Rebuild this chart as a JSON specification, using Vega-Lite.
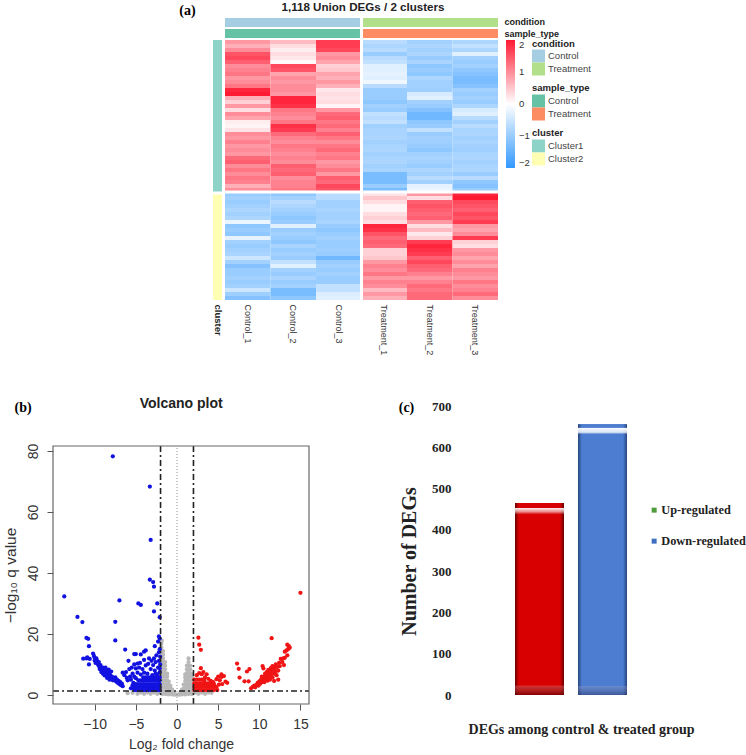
{"$schema":"https://vega.github.io/schema/vega-lite/v6.json","width":746,"height":755,"padding":0,"autosize":{"type":"fit","contains":"padding"},"background":"white","config":{"view":{"stroke":null},"font":"Liberation Sans","legend":{"titleFont":"Liberation Sans"}},
"resolve":{"scale":{"x":"independent","y":"independent","color":"independent"},"axis":{"x":"independent","y":"independent"},"legend":{"color":"independent"}},
"datasets":{"heat":[
{"g":1,"s":"Control_1","v":0.9},{"g":1,"s":"Control_2","v":0.6},{"g":1,"s":"Control_3","v":1.7},{"g":1,"s":"Treatment_1","v":-0.7},{"g":1,"s":"Treatment_2","v":-0.9},{"g":1,"s":"Treatment_3","v":-0.8},
{"g":2,"s":"Control_1","v":0.7},{"g":2,"s":"Control_2","v":0.3},{"g":2,"s":"Control_3","v":1.7},{"g":2,"s":"Treatment_1","v":-0.8},{"g":2,"s":"Treatment_2","v":-0.8},{"g":2,"s":"Treatment_3","v":-0.6},
{"g":3,"s":"Control_1","v":1.0},{"g":3,"s":"Control_2","v":0.15},{"g":3,"s":"Control_3","v":1.6},{"g":3,"s":"Treatment_1","v":-0.7},{"g":3,"s":"Treatment_2","v":-0.9},{"g":3,"s":"Treatment_3","v":-0.8},
{"g":4,"s":"Control_1","v":1.5},{"g":4,"s":"Control_2","v":0.3},{"g":4,"s":"Control_3","v":0.9},{"g":4,"s":"Treatment_1","v":-1.0},{"g":4,"s":"Treatment_2","v":-0.8},{"g":4,"s":"Treatment_3","v":-0.3},
{"g":5,"s":"Control_1","v":1.6},{"g":5,"s":"Control_2","v":0.2},{"g":5,"s":"Control_3","v":1.0},{"g":5,"s":"Treatment_1","v":-0.7},{"g":5,"s":"Treatment_2","v":-1.0},{"g":5,"s":"Treatment_3","v":-0.9},
{"g":6,"s":"Control_1","v":1.4},{"g":6,"s":"Control_2","v":0.05},{"g":6,"s":"Control_3","v":0.8},{"g":6,"s":"Treatment_1","v":-0.6},{"g":6,"s":"Treatment_2","v":-0.85},{"g":6,"s":"Treatment_3","v":-1.0},
{"g":7,"s":"Control_1","v":1.0},{"g":7,"s":"Control_2","v":1.6},{"g":7,"s":"Control_3","v":0.4},{"g":7,"s":"Treatment_1","v":-0.3},{"g":7,"s":"Treatment_2","v":-1.1},{"g":7,"s":"Treatment_3","v":-0.9},
{"g":8,"s":"Control_1","v":1.1},{"g":8,"s":"Control_2","v":1.5},{"g":8,"s":"Control_3","v":0.5},{"g":8,"s":"Treatment_1","v":-0.3},{"g":8,"s":"Treatment_2","v":-1.0},{"g":8,"s":"Treatment_3","v":-1.1},
{"g":9,"s":"Control_1","v":1.2},{"g":9,"s":"Control_2","v":0.8},{"g":9,"s":"Control_3","v":0.8},{"g":9,"s":"Treatment_1","v":-0.25},{"g":9,"s":"Treatment_2","v":-1.1},{"g":9,"s":"Treatment_3","v":-1.2},
{"g":10,"s":"Control_1","v":0.9},{"g":10,"s":"Control_2","v":1.0},{"g":10,"s":"Control_3","v":0.7},{"g":10,"s":"Treatment_1","v":-0.3},{"g":10,"s":"Treatment_2","v":-0.8},{"g":10,"s":"Treatment_3","v":-1.3},
{"g":11,"s":"Control_1","v":1.0},{"g":11,"s":"Control_2","v":0.9},{"g":11,"s":"Control_3","v":0.9},{"g":11,"s":"Treatment_1","v":-0.15},{"g":11,"s":"Treatment_2","v":-0.9},{"g":11,"s":"Treatment_3","v":-1.3},
{"g":12,"s":"Control_1","v":1.2},{"g":12,"s":"Control_2","v":1.0},{"g":12,"s":"Control_3","v":0.7},{"g":12,"s":"Treatment_1","v":-0.7},{"g":12,"s":"Treatment_2","v":-0.9},{"g":12,"s":"Treatment_3","v":-1.2},
{"g":13,"s":"Control_1","v":1.9},{"g":13,"s":"Control_2","v":1.0},{"g":13,"s":"Control_3","v":0.2},{"g":13,"s":"Treatment_1","v":-1.0},{"g":13,"s":"Treatment_2","v":-0.95},{"g":13,"s":"Treatment_3","v":-0.9},
{"g":14,"s":"Control_1","v":2.0},{"g":14,"s":"Control_2","v":0.9},{"g":14,"s":"Control_3","v":0.3},{"g":14,"s":"Treatment_1","v":-1.0},{"g":14,"s":"Treatment_2","v":-0.4},{"g":14,"s":"Treatment_3","v":-1.0},
{"g":15,"s":"Control_1","v":0.7},{"g":15,"s":"Control_2","v":1.9},{"g":15,"s":"Control_3","v":0.25},{"g":15,"s":"Treatment_1","v":-1.0},{"g":15,"s":"Treatment_2","v":-0.3},{"g":15,"s":"Treatment_3","v":-0.9},
{"g":16,"s":"Control_1","v":0.4},{"g":16,"s":"Control_2","v":1.9},{"g":16,"s":"Control_3","v":0.3},{"g":16,"s":"Treatment_1","v":-1.1},{"g":16,"s":"Treatment_2","v":-0.9},{"g":16,"s":"Treatment_3","v":-1.0},
{"g":17,"s":"Control_1","v":0.9},{"g":17,"s":"Control_2","v":1.8},{"g":17,"s":"Control_3","v":0.1},{"g":17,"s":"Treatment_1","v":-0.9},{"g":17,"s":"Treatment_2","v":-1.0},{"g":17,"s":"Treatment_3","v":-0.8},
{"g":18,"s":"Control_1","v":0.3},{"g":18,"s":"Control_2","v":1.2},{"g":18,"s":"Control_3","v":0.9},{"g":18,"s":"Treatment_1","v":-1.0},{"g":18,"s":"Treatment_2","v":-1.2},{"g":18,"s":"Treatment_3","v":-0.4},
{"g":19,"s":"Control_1","v":1.0},{"g":19,"s":"Control_2","v":1.1},{"g":19,"s":"Control_3","v":1.3},{"g":19,"s":"Treatment_1","v":-0.6},{"g":19,"s":"Treatment_2","v":-1.4},{"g":19,"s":"Treatment_3","v":-0.3},
{"g":20,"s":"Control_1","v":0.8},{"g":20,"s":"Control_2","v":1.0},{"g":20,"s":"Control_3","v":1.4},{"g":20,"s":"Treatment_1","v":-0.7},{"g":20,"s":"Treatment_2","v":-1.4},{"g":20,"s":"Treatment_3","v":-0.7},
{"g":21,"s":"Control_1","v":0.15},{"g":21,"s":"Control_2","v":1.2},{"g":21,"s":"Control_3","v":1.2},{"g":21,"s":"Treatment_1","v":-0.6},{"g":21,"s":"Treatment_2","v":-1.1},{"g":21,"s":"Treatment_3","v":-0.9},
{"g":22,"s":"Control_1","v":0.1},{"g":22,"s":"Control_2","v":1.8},{"g":22,"s":"Control_3","v":1.3},{"g":22,"s":"Treatment_1","v":-0.9},{"g":22,"s":"Treatment_2","v":-1.0},{"g":22,"s":"Treatment_3","v":-0.7},
{"g":23,"s":"Control_1","v":0.25},{"g":23,"s":"Control_2","v":1.7},{"g":23,"s":"Control_3","v":1.1},{"g":23,"s":"Treatment_1","v":-0.85},{"g":23,"s":"Treatment_2","v":-0.6},{"g":23,"s":"Treatment_3","v":-0.85},
{"g":24,"s":"Control_1","v":1.0},{"g":24,"s":"Control_2","v":1.3},{"g":24,"s":"Control_3","v":1.4},{"g":24,"s":"Treatment_1","v":-0.85},{"g":24,"s":"Treatment_2","v":-1.0},{"g":24,"s":"Treatment_3","v":-0.8},
{"g":25,"s":"Control_1","v":0.9},{"g":25,"s":"Control_2","v":1.1},{"g":25,"s":"Control_3","v":1.2},{"g":25,"s":"Treatment_1","v":-0.8},{"g":25,"s":"Treatment_2","v":-0.9},{"g":25,"s":"Treatment_3","v":-0.9},
{"g":26,"s":"Control_1","v":1.1},{"g":26,"s":"Control_2","v":1.0},{"g":26,"s":"Control_3","v":1.0},{"g":26,"s":"Treatment_1","v":-0.9},{"g":26,"s":"Treatment_2","v":-0.95},{"g":26,"s":"Treatment_3","v":-0.85},
{"g":27,"s":"Control_1","v":0.9},{"g":27,"s":"Control_2","v":1.2},{"g":27,"s":"Control_3","v":1.2},{"g":27,"s":"Treatment_1","v":-0.85},{"g":27,"s":"Treatment_2","v":-1.0},{"g":27,"s":"Treatment_3","v":-0.9},
{"g":28,"s":"Control_1","v":1.0},{"g":28,"s":"Control_2","v":1.1},{"g":28,"s":"Control_3","v":1.3},{"g":28,"s":"Treatment_1","v":-0.8},{"g":28,"s":"Treatment_2","v":-1.1},{"g":28,"s":"Treatment_3","v":-0.95},
{"g":29,"s":"Control_1","v":0.9},{"g":29,"s":"Control_2","v":1.0},{"g":29,"s":"Control_3","v":1.1},{"g":29,"s":"Treatment_1","v":-0.9},{"g":29,"s":"Treatment_2","v":-0.9},{"g":29,"s":"Treatment_3","v":-0.85},
{"g":30,"s":"Control_1","v":1.3},{"g":30,"s":"Control_2","v":1.1},{"g":30,"s":"Control_3","v":1.2},{"g":30,"s":"Treatment_1","v":-0.85},{"g":30,"s":"Treatment_2","v":-0.85},{"g":30,"s":"Treatment_3","v":-0.8},
{"g":31,"s":"Control_1","v":1.4},{"g":31,"s":"Control_2","v":1.0},{"g":31,"s":"Control_3","v":0.9},{"g":31,"s":"Treatment_1","v":-0.8},{"g":31,"s":"Treatment_2","v":-0.9},{"g":31,"s":"Treatment_3","v":-0.9},
{"g":32,"s":"Control_1","v":1.0},{"g":32,"s":"Control_2","v":1.4},{"g":32,"s":"Control_3","v":1.0},{"g":32,"s":"Treatment_1","v":-0.9},{"g":32,"s":"Treatment_2","v":-1.0},{"g":32,"s":"Treatment_3","v":-0.85},
{"g":33,"s":"Control_1","v":1.2},{"g":33,"s":"Control_2","v":1.3},{"g":33,"s":"Control_3","v":1.2},{"g":33,"s":"Treatment_1","v":-0.85},{"g":33,"s":"Treatment_2","v":-0.8},{"g":33,"s":"Treatment_3","v":-0.8},
{"g":34,"s":"Control_1","v":1.0},{"g":34,"s":"Control_2","v":1.4},{"g":34,"s":"Control_3","v":0.9},{"g":34,"s":"Treatment_1","v":-1.3},{"g":34,"s":"Treatment_2","v":-0.9},{"g":34,"s":"Treatment_3","v":-1.0},
{"g":35,"s":"Control_1","v":1.2},{"g":35,"s":"Control_2","v":1.0},{"g":35,"s":"Control_3","v":1.4},{"g":35,"s":"Treatment_1","v":-1.3},{"g":35,"s":"Treatment_2","v":-0.7},{"g":35,"s":"Treatment_3","v":-0.7},
{"g":36,"s":"Control_1","v":1.1},{"g":36,"s":"Control_2","v":1.1},{"g":36,"s":"Control_3","v":1.3},{"g":36,"s":"Treatment_1","v":-1.3},{"g":36,"s":"Treatment_2","v":-0.9},{"g":36,"s":"Treatment_3","v":-1.1},
{"g":37,"s":"Control_1","v":0.7},{"g":37,"s":"Control_2","v":1.1},{"g":37,"s":"Control_3","v":1.6},{"g":37,"s":"Treatment_1","v":-1.0},{"g":37,"s":"Treatment_2","v":-0.25},{"g":37,"s":"Treatment_3","v":-1.2},
{"g":38,"s":"Control_1","v":1.0},{"g":38,"s":"Control_2","v":1.2},{"g":38,"s":"Control_3","v":1.5},{"g":38,"s":"Treatment_1","v":-1.3},{"g":38,"s":"Treatment_2","v":-0.2},{"g":38,"s":"Treatment_3","v":-1.0},
{"g":39,"s":"Control_1","v":-1.0},{"g":39,"s":"Control_2","v":-1.1},{"g":39,"s":"Control_3","v":-0.7},{"g":39,"s":"Treatment_1","v":0.25},{"g":39,"s":"Treatment_2","v":0.9},{"g":39,"s":"Treatment_3","v":1.9},
{"g":40,"s":"Control_1","v":-0.9},{"g":40,"s":"Control_2","v":-0.9},{"g":40,"s":"Control_3","v":-0.7},{"g":40,"s":"Treatment_1","v":0.5},{"g":40,"s":"Treatment_2","v":0.3},{"g":40,"s":"Treatment_3","v":2.0},
{"g":41,"s":"Control_1","v":-1.0},{"g":41,"s":"Control_2","v":-0.7},{"g":41,"s":"Control_3","v":-0.9},{"g":41,"s":"Treatment_1","v":0.3},{"g":41,"s":"Treatment_2","v":1.4},{"g":41,"s":"Treatment_3","v":1.6},
{"g":42,"s":"Control_1","v":-0.9},{"g":42,"s":"Control_2","v":-0.8},{"g":42,"s":"Control_3","v":-0.9},{"g":42,"s":"Treatment_1","v":0.1},{"g":42,"s":"Treatment_2","v":1.5},{"g":42,"s":"Treatment_3","v":1.5},
{"g":43,"s":"Control_1","v":-0.8},{"g":43,"s":"Control_2","v":-0.9},{"g":43,"s":"Control_3","v":-0.85},{"g":43,"s":"Treatment_1","v":0.1},{"g":43,"s":"Treatment_2","v":1.4},{"g":43,"s":"Treatment_3","v":1.4},
{"g":44,"s":"Control_1","v":-0.9},{"g":44,"s":"Control_2","v":-1.0},{"g":44,"s":"Control_3","v":-0.9},{"g":44,"s":"Treatment_1","v":0.3},{"g":44,"s":"Treatment_2","v":1.3},{"g":44,"s":"Treatment_3","v":1.6},
{"g":45,"s":"Control_1","v":-0.8},{"g":45,"s":"Control_2","v":-1.1},{"g":45,"s":"Control_3","v":-0.9},{"g":45,"s":"Treatment_1","v":0.4},{"g":45,"s":"Treatment_2","v":1.4},{"g":45,"s":"Treatment_3","v":1.5},
{"g":46,"s":"Control_1","v":-0.2},{"g":46,"s":"Control_2","v":-1.0},{"g":46,"s":"Control_3","v":-0.85},{"g":46,"s":"Treatment_1","v":0.3},{"g":46,"s":"Treatment_2","v":0.9},{"g":46,"s":"Treatment_3","v":1.7},
{"g":47,"s":"Control_1","v":-1.1},{"g":47,"s":"Control_2","v":-0.3},{"g":47,"s":"Control_3","v":-1.0},{"g":47,"s":"Treatment_1","v":1.9},{"g":47,"s":"Treatment_2","v":0.3},{"g":47,"s":"Treatment_3","v":0.9},
{"g":48,"s":"Control_1","v":-1.0},{"g":48,"s":"Control_2","v":-1.0},{"g":48,"s":"Control_3","v":-1.1},{"g":48,"s":"Treatment_1","v":1.8},{"g":48,"s":"Treatment_2","v":0.6},{"g":48,"s":"Treatment_3","v":0.8},
{"g":49,"s":"Control_1","v":-1.1},{"g":49,"s":"Control_2","v":-0.9},{"g":49,"s":"Control_3","v":-1.0},{"g":49,"s":"Treatment_1","v":1.5},{"g":49,"s":"Treatment_2","v":0.2},{"g":49,"s":"Treatment_3","v":1.0},
{"g":50,"s":"Control_1","v":-0.25},{"g":50,"s":"Control_2","v":-1.0},{"g":50,"s":"Control_3","v":-0.9},{"g":50,"s":"Treatment_1","v":1.3},{"g":50,"s":"Treatment_2","v":0.4},{"g":50,"s":"Treatment_3","v":1.7},
{"g":51,"s":"Control_1","v":-0.9},{"g":51,"s":"Control_2","v":-1.1},{"g":51,"s":"Control_3","v":-1.0},{"g":51,"s":"Treatment_1","v":1.4},{"g":51,"s":"Treatment_2","v":1.7},{"g":51,"s":"Treatment_3","v":0.4},
{"g":52,"s":"Control_1","v":-1.0},{"g":52,"s":"Control_2","v":-0.85},{"g":52,"s":"Control_3","v":-1.0},{"g":52,"s":"Treatment_1","v":1.3},{"g":52,"s":"Treatment_2","v":1.9},{"g":52,"s":"Treatment_3","v":0.3},
{"g":53,"s":"Control_1","v":-0.9},{"g":53,"s":"Control_2","v":-1.0},{"g":53,"s":"Control_3","v":-0.95},{"g":53,"s":"Treatment_1","v":0.4},{"g":53,"s":"Treatment_2","v":1.8},{"g":53,"s":"Treatment_3","v":0.9},
{"g":54,"s":"Control_1","v":-0.85},{"g":54,"s":"Control_2","v":-0.9},{"g":54,"s":"Control_3","v":-1.0},{"g":54,"s":"Treatment_1","v":0.4},{"g":54,"s":"Treatment_2","v":1.7},{"g":54,"s":"Treatment_3","v":1.0},
{"g":55,"s":"Control_1","v":-0.5},{"g":55,"s":"Control_2","v":-1.0},{"g":55,"s":"Control_3","v":-1.4},{"g":55,"s":"Treatment_1","v":0.5},{"g":55,"s":"Treatment_2","v":1.4},{"g":55,"s":"Treatment_3","v":0.8},
{"g":56,"s":"Control_1","v":-0.9},{"g":56,"s":"Control_2","v":-0.6},{"g":56,"s":"Control_3","v":-1.0},{"g":56,"s":"Treatment_1","v":0.9},{"g":56,"s":"Treatment_2","v":1.6},{"g":56,"s":"Treatment_3","v":1.0},
{"g":57,"s":"Control_1","v":-1.2},{"g":57,"s":"Control_2","v":-0.3},{"g":57,"s":"Control_3","v":-0.9},{"g":57,"s":"Treatment_1","v":1.1},{"g":57,"s":"Treatment_2","v":1.4},{"g":57,"s":"Treatment_3","v":0.8},
{"g":58,"s":"Control_1","v":-1.0},{"g":58,"s":"Control_2","v":-0.9},{"g":58,"s":"Control_3","v":-1.0},{"g":58,"s":"Treatment_1","v":1.0},{"g":58,"s":"Treatment_2","v":1.3},{"g":58,"s":"Treatment_3","v":1.1},
{"g":59,"s":"Control_1","v":-1.0},{"g":59,"s":"Control_2","v":-1.0},{"g":59,"s":"Control_3","v":-0.9},{"g":59,"s":"Treatment_1","v":1.2},{"g":59,"s":"Treatment_2","v":1.1},{"g":59,"s":"Treatment_3","v":1.0},
{"g":60,"s":"Control_1","v":-0.9},{"g":60,"s":"Control_2","v":-0.85},{"g":60,"s":"Control_3","v":-1.0},{"g":60,"s":"Treatment_1","v":0.9},{"g":60,"s":"Treatment_2","v":0.9},{"g":60,"s":"Treatment_3","v":0.9},
{"g":61,"s":"Control_1","v":-1.0},{"g":61,"s":"Control_2","v":-1.0},{"g":61,"s":"Control_3","v":-1.0},{"g":61,"s":"Treatment_1","v":1.1},{"g":61,"s":"Treatment_2","v":1.1},{"g":61,"s":"Treatment_3","v":1.2},
{"g":62,"s":"Control_1","v":-0.9},{"g":62,"s":"Control_2","v":-0.9},{"g":62,"s":"Control_3","v":-0.6},{"g":62,"s":"Treatment_1","v":1.0},{"g":62,"s":"Treatment_2","v":1.3},{"g":62,"s":"Treatment_3","v":1.0},
{"g":63,"s":"Control_1","v":-0.5},{"g":63,"s":"Control_2","v":-1.3},{"g":63,"s":"Control_3","v":-0.6},{"g":63,"s":"Treatment_1","v":0.6},{"g":63,"s":"Treatment_2","v":1.2},{"g":63,"s":"Treatment_3","v":1.1},
{"g":64,"s":"Control_1","v":-0.95},{"g":64,"s":"Control_2","v":-1.3},{"g":64,"s":"Control_3","v":-0.35},{"g":64,"s":"Treatment_1","v":0.9},{"g":64,"s":"Treatment_2","v":1.3},{"g":64,"s":"Treatment_3","v":1.3},
{"g":65,"s":"Control_1","v":-1.2},{"g":65,"s":"Control_2","v":-1.1},{"g":65,"s":"Control_3","v":-0.3},{"g":65,"s":"Treatment_1","v":0.7},{"g":65,"s":"Treatment_2","v":1.3},{"g":65,"s":"Treatment_3","v":1.0}
],
"volcano":[
{"fc":-6,"q":0.6,"g":"ns"},{"fc":-5.4,"q":0.7,"g":"ns"},{"fc":-4.8,"q":0.4,"g":"ns"},{"fc":-4.4,"q":0.8,"g":"ns"},{"fc":-4,"q":0.4,"g":"ns"},{"fc":-3.6,"q":0.8,"g":"ns"},{"fc":-3.2,"q":0.4,"g":"ns"},{"fc":-2.8,"q":0.8,"g":"ns"},{"fc":-2.4,"q":0.4,"g":"ns"},{"fc":-2.2,"q":0.9,"g":"ns"},{"fc":-1.8,"q":0.3,"g":"ns"},{"fc":-1.4,"q":0.3,"g":"ns"},{"fc":-1,"q":0.2,"g":"ns"},{"fc":-0.6,"q":0.2,"g":"ns"},{"fc":-0.3,"q":0.1,"g":"ns"},{"fc":0,"q":0.1,"g":"ns"},{"fc":0.3,"q":0.1,"g":"ns"},{"fc":0.6,"q":0.2,"g":"ns"},{"fc":1,"q":0.2,"g":"ns"},{"fc":1.4,"q":0.3,"g":"ns"},{"fc":1.8,"q":0.3,"g":"ns"},{"fc":2.2,"q":0.8,"g":"ns"},{"fc":2.6,"q":0.4,"g":"ns"},{"fc":3,"q":0.8,"g":"ns"},{"fc":3.4,"q":0.4,"g":"ns"},{"fc":3.8,"q":0.8,"g":"ns"},{"fc":4.2,"q":0.7,"g":"ns"},
{"fc":-2,"q":1.2,"g":"ns"},{"fc":-2,"q":2.4,"g":"ns"},{"fc":-2,"q":3.6,"g":"ns"},{"fc":-2,"q":4.8,"g":"ns"},{"fc":-2,"q":6,"g":"ns"},{"fc":-2,"q":7.2,"g":"ns"},{"fc":-2,"q":8.4,"g":"ns"},{"fc":-1.9,"q":9.6,"g":"ns"},{"fc":-1.9,"q":10.8,"g":"ns"},{"fc":-1.9,"q":12,"g":"ns"},{"fc":-1.9,"q":13.2,"g":"ns"},{"fc":-1.9,"q":14.4,"g":"ns"},{"fc":-1.9,"q":15.6,"g":"ns"},{"fc":-1.9,"q":16.8,"g":"ns"},{"fc":-1.85,"q":17.8,"g":"ns"},
{"fc":-1.7,"q":1.2,"g":"ns"},{"fc":-1.7,"q":2.4,"g":"ns"},{"fc":-1.7,"q":3.6,"g":"ns"},{"fc":-1.7,"q":4.8,"g":"ns"},{"fc":-1.7,"q":6,"g":"ns"},{"fc":-1.7,"q":7.2,"g":"ns"},{"fc":-1.7,"q":8.4,"g":"ns"},{"fc":-1.7,"q":9.6,"g":"ns"},{"fc":-1.7,"q":10.8,"g":"ns"},{"fc":-1.7,"q":12,"g":"ns"},{"fc":-1.7,"q":13.2,"g":"ns"},{"fc":-1.7,"q":14.4,"g":"ns"},
{"fc":-1.45,"q":1.2,"g":"ns"},{"fc":-1.45,"q":2.4,"g":"ns"},{"fc":-1.45,"q":3.6,"g":"ns"},{"fc":-1.45,"q":4.8,"g":"ns"},{"fc":-1.45,"q":6,"g":"ns"},{"fc":-1.45,"q":7.2,"g":"ns"},{"fc":-1.45,"q":8.4,"g":"ns"},{"fc":-1.45,"q":9.6,"g":"ns"},{"fc":-1.45,"q":10.8,"g":"ns"},
{"fc":-1.2,"q":1.2,"g":"ns"},{"fc":-1.2,"q":2.4,"g":"ns"},{"fc":-1.2,"q":3.6,"g":"ns"},{"fc":-1.2,"q":4.8,"g":"ns"},{"fc":-1.2,"q":6,"g":"ns"},{"fc":-1.2,"q":7,"g":"ns"},
{"fc":-1,"q":1,"g":"ns"},{"fc":-1,"q":2.2,"g":"ns"},{"fc":-1,"q":3.4,"g":"ns"},{"fc":-1,"q":4.4,"g":"ns"},{"fc":-0.8,"q":1,"g":"ns"},{"fc":-0.8,"q":2.2,"g":"ns"},{"fc":-0.8,"q":3,"g":"ns"},{"fc":-0.6,"q":1,"g":"ns"},{"fc":-0.6,"q":1.8,"g":"ns"},{"fc":-0.4,"q":0.7,"g":"ns"},
{"fc":0.4,"q":0.7,"g":"ns"},{"fc":0.6,"q":1,"g":"ns"},{"fc":0.6,"q":1.8,"g":"ns"},{"fc":0.8,"q":1,"g":"ns"},{"fc":0.8,"q":2.2,"g":"ns"},{"fc":0.8,"q":3.4,"g":"ns"},
{"fc":1,"q":1,"g":"ns"},{"fc":1,"q":2.2,"g":"ns"},{"fc":1,"q":3.4,"g":"ns"},{"fc":1,"q":4.6,"g":"ns"},{"fc":1,"q":5.8,"g":"ns"},{"fc":1,"q":6.8,"g":"ns"},
{"fc":1.2,"q":1.2,"g":"ns"},{"fc":1.2,"q":2.4,"g":"ns"},{"fc":1.2,"q":3.6,"g":"ns"},{"fc":1.2,"q":4.8,"g":"ns"},{"fc":1.2,"q":6,"g":"ns"},{"fc":1.2,"q":7.2,"g":"ns"},{"fc":1.2,"q":8.4,"g":"ns"},{"fc":1.2,"q":9.6,"g":"ns"},
{"fc":1.4,"q":1.2,"g":"ns"},{"fc":1.4,"q":2.4,"g":"ns"},{"fc":1.4,"q":3.6,"g":"ns"},{"fc":1.4,"q":4.8,"g":"ns"},{"fc":1.4,"q":6,"g":"ns"},{"fc":1.4,"q":7.2,"g":"ns"},{"fc":1.4,"q":8.4,"g":"ns"},{"fc":1.4,"q":9.6,"g":"ns"},{"fc":1.4,"q":10.8,"g":"ns"},{"fc":1.4,"q":12,"g":"ns"},
{"fc":1.6,"q":1.2,"g":"ns"},{"fc":1.6,"q":2.4,"g":"ns"},{"fc":1.6,"q":3.6,"g":"ns"},{"fc":1.6,"q":4.8,"g":"ns"},{"fc":1.6,"q":6,"g":"ns"},{"fc":1.6,"q":7.2,"g":"ns"},{"fc":1.6,"q":8.4,"g":"ns"},{"fc":1.6,"q":9.6,"g":"ns"},
{"fc":1.85,"q":1.2,"g":"ns"},{"fc":1.85,"q":2.4,"g":"ns"},{"fc":1.85,"q":3.6,"g":"ns"},{"fc":1.85,"q":4.8,"g":"ns"},{"fc":1.85,"q":5.8,"g":"ns"},{"fc":1.85,"q":6.8,"g":"ns"},
{"fc":-7.8,"q":78.2,"g":"down"},{"fc":-3.3,"q":68.3,"g":"down"},{"fc":-3.2,"q":50.8,"g":"down"},{"fc":-3.3,"q":37.8,"g":"down"},{"fc":-2.9,"q":37,"g":"down"},{"fc":-2.8,"q":35.5,"g":"down"},{"fc":-13.7,"q":32.3,"g":"down"},{"fc":-7,"q":31,"g":"down"},{"fc":-4.7,"q":30,"g":"down"},{"fc":-4.4,"q":29.5,"g":"down"},{"fc":-2.4,"q":30,"g":"down"},{"fc":-2.8,"q":27.4,"g":"down"},{"fc":-2.1,"q":25.5,"g":"down"},{"fc":-12.1,"q":25.6,"g":"down"},{"fc":-11.5,"q":23.9,"g":"down"},{"fc":-7.5,"q":24,"g":"down"},{"fc":-7.5,"q":17.9,"g":"down"},{"fc":-11,"q":18.7,"g":"down"},{"fc":-10.8,"q":18.4,"g":"down"},{"fc":-10.7,"q":16,"g":"down"},{"fc":-6.3,"q":14.9,"g":"down"},{"fc":-2.2,"q":19.2,"g":"down"},{"fc":-2.1,"q":18.5,"g":"down"},{"fc":-2.3,"q":17.5,"g":"down"},{"fc":-2.7,"q":16,"g":"down"},{"fc":-3.8,"q":14.6,"g":"down"},{"fc":-4,"q":14.2,"g":"down"},{"fc":-4.4,"q":13.3,"g":"down"},{"fc":-5,"q":13.4,"g":"down"},{"fc":-5.2,"q":13.4,"g":"down"},{"fc":-5.9,"q":11.2,"g":"down"},
{"fc":-11.4,"q":11.9,"g":"down"},{"fc":-11,"q":12,"g":"down"},{"fc":-10.9,"q":12.3,"g":"down"},{"fc":-10.7,"q":10,"g":"down"},{"fc":-10.6,"q":11.8,"g":"down"},{"fc":-10.2,"q":13.6,"g":"down"},{"fc":-10.1,"q":12.8,"g":"down"},{"fc":-10,"q":12.2,"g":"down"},{"fc":-10,"q":11.3,"g":"down"},{"fc":-9.9,"q":10.5,"g":"down"},{"fc":-9.8,"q":12,"g":"down"},{"fc":-9.7,"q":11.2,"g":"down"},{"fc":-9.6,"q":10,"g":"down"},{"fc":-9.5,"q":9.5,"g":"down"},{"fc":-9.5,"q":10.8,"g":"down"},{"fc":-9.4,"q":8.5,"g":"down"},{"fc":-9.3,"q":9.8,"g":"down"},{"fc":-9.2,"q":9,"g":"down"},{"fc":-9.2,"q":7.5,"g":"down"},{"fc":-9.1,"q":8.2,"g":"down"},{"fc":-9,"q":9,"g":"down"},{"fc":-9,"q":7,"g":"down"},{"fc":-8.9,"q":8,"g":"down"},{"fc":-8.8,"q":6.4,"g":"down"},{"fc":-8.7,"q":7.6,"g":"down"},{"fc":-8.7,"q":9,"g":"down"},{"fc":-8.6,"q":6.8,"g":"down"},{"fc":-8.5,"q":8,"g":"down"},{"fc":-8.5,"q":5.6,"g":"down"},{"fc":-8.4,"q":7,"g":"down"},{"fc":-8.3,"q":6,"g":"down"},{"fc":-8.3,"q":8.3,"g":"down"},{"fc":-8.2,"q":7.2,"g":"down"},{"fc":-8.2,"q":5,"g":"down"},{"fc":-8.1,"q":6.4,"g":"down"},{"fc":-8,"q":5.4,"g":"down"},{"fc":-8,"q":7.7,"g":"down"},{"fc":-7.9,"q":6,"g":"down"},{"fc":-7.8,"q":4.8,"g":"down"},{"fc":-7.7,"q":5.5,"g":"down"},{"fc":-7.6,"q":4.9,"g":"down"},{"fc":-7.5,"q":5.8,"g":"down"},{"fc":-7.4,"q":4.4,"g":"down"},{"fc":-7.3,"q":5,"g":"down"},{"fc":-7.2,"q":4,"g":"down"},{"fc":-7.1,"q":4.6,"g":"down"},{"fc":-7,"q":3.6,"g":"down"},{"fc":-6.9,"q":4.2,"g":"down"},{"fc":-6.8,"q":3.2,"g":"down"},{"fc":-6.7,"q":3.7,"g":"down"},{"fc":-6.6,"q":2.9,"g":"down"},
{"fc":-6.6,"q":7.3,"g":"down"},{"fc":-6.4,"q":6.5,"g":"down"},{"fc":-6.2,"q":7.5,"g":"down"},{"fc":-6.1,"q":5.6,"g":"down"},{"fc":-6,"q":4.8,"g":"down"},{"fc":-5.8,"q":8.5,"g":"down"},{"fc":-5.7,"q":6,"g":"down"},{"fc":-5.6,"q":5,"g":"down"},{"fc":-5.5,"q":9,"g":"down"},{"fc":-5.4,"q":7,"g":"down"},{"fc":-5.3,"q":4,"g":"down"},{"fc":-5.2,"q":10,"g":"down"},{"fc":-5.2,"q":6,"g":"down"},{"fc":-5,"q":8.7,"g":"down"},{"fc":-5,"q":5.5,"g":"down"},{"fc":-4.8,"q":10.3,"g":"down"},{"fc":-4.8,"q":7.3,"g":"down"},{"fc":-4.6,"q":9,"g":"down"},{"fc":-4.5,"q":10.5,"g":"down"},{"fc":-4.4,"q":6.7,"g":"down"},{"fc":-4.2,"q":8.5,"g":"down"},{"fc":-4,"q":11.5,"g":"down"},{"fc":-4,"q":7.3,"g":"down"},{"fc":-3.8,"q":9.7,"g":"down"},{"fc":-3.6,"q":7,"g":"down"},{"fc":-3.5,"q":10.2,"g":"down"},{"fc":-3.4,"q":12,"g":"down"},{"fc":-3.2,"q":8.5,"g":"down"},{"fc":-3.1,"q":11.2,"g":"down"},{"fc":-3,"q":6.5,"g":"down"},{"fc":-2.9,"q":9.8,"g":"down"},{"fc":-2.8,"q":12,"g":"down"},{"fc":-2.7,"q":8,"g":"down"},{"fc":-2.6,"q":10.8,"g":"down"},{"fc":-2.5,"q":13,"g":"down"},{"fc":-2.4,"q":6.8,"g":"down"},{"fc":-2.3,"q":9,"g":"down"},{"fc":-2.2,"q":11.2,"g":"down"},{"fc":-2.2,"q":14,"g":"down"},{"fc":-2.1,"q":7.5,"g":"down"},{"fc":-2.05,"q":12.5,"g":"down"},{"fc":-2.05,"q":10,"g":"down"},{"fc":-2.1,"q":15,"g":"down"},
{"fc":-5.6,"q":2.2,"g":"down"},{"fc":-5.4,"q":2.4,"g":"down"},{"fc":-5.4,"q":3.2,"g":"down"},{"fc":-5.2,"q":1.7,"g":"down"},{"fc":-5.2,"q":2.9,"g":"down"},{"fc":-5,"q":1.6,"g":"down"},{"fc":-5,"q":2.6,"g":"down"},{"fc":-5,"q":3.6,"g":"down"},{"fc":-4.7,"q":1.6,"g":"down"},{"fc":-4.7,"q":2.6,"g":"down"},{"fc":-4.7,"q":3.6,"g":"down"},{"fc":-4.7,"q":4.8,"g":"down"},{"fc":-4.4,"q":1.6,"g":"down"},{"fc":-4.4,"q":2.6,"g":"down"},{"fc":-4.4,"q":3.6,"g":"down"},{"fc":-4.4,"q":4.8,"g":"down"},{"fc":-4.1,"q":1.6,"g":"down"},{"fc":-4.1,"q":2.6,"g":"down"},{"fc":-4.1,"q":3.6,"g":"down"},{"fc":-4.1,"q":4.8,"g":"down"},{"fc":-4.1,"q":5.8,"g":"down"},{"fc":-3.8,"q":1.6,"g":"down"},{"fc":-3.8,"q":2.6,"g":"down"},{"fc":-3.8,"q":3.6,"g":"down"},{"fc":-3.8,"q":4.8,"g":"down"},{"fc":-3.8,"q":5.8,"g":"down"},{"fc":-3.5,"q":1.6,"g":"down"},{"fc":-3.5,"q":2.6,"g":"down"},{"fc":-3.5,"q":3.6,"g":"down"},{"fc":-3.5,"q":4.8,"g":"down"},{"fc":-3.5,"q":5.8,"g":"down"},{"fc":-3.2,"q":1.6,"g":"down"},{"fc":-3.2,"q":2.6,"g":"down"},{"fc":-3.2,"q":3.6,"g":"down"},{"fc":-3.2,"q":4.8,"g":"down"},{"fc":-3.2,"q":5.8,"g":"down"},{"fc":-2.9,"q":1.6,"g":"down"},{"fc":-2.9,"q":2.6,"g":"down"},{"fc":-2.9,"q":3.6,"g":"down"},{"fc":-2.9,"q":4.8,"g":"down"},{"fc":-2.9,"q":5.8,"g":"down"},{"fc":-2.6,"q":1.6,"g":"down"},{"fc":-2.6,"q":2.6,"g":"down"},{"fc":-2.6,"q":3.6,"g":"down"},{"fc":-2.6,"q":4.8,"g":"down"},{"fc":-2.6,"q":5.8,"g":"down"},{"fc":-2.6,"q":7,"g":"down"},{"fc":-2.3,"q":1.6,"g":"down"},{"fc":-2.3,"q":2.6,"g":"down"},{"fc":-2.3,"q":3.6,"g":"down"},{"fc":-2.3,"q":4.8,"g":"down"},{"fc":-2.3,"q":5.8,"g":"down"},{"fc":-2.1,"q":1.6,"g":"down"},{"fc":-2.1,"q":2.6,"g":"down"},{"fc":-2.1,"q":3.6,"g":"down"},{"fc":-2.1,"q":4.8,"g":"down"},{"fc":-2.1,"q":5.8,"g":"down"},{"fc":-2.1,"q":8.8,"g":"down"},
{"fc":15,"q":33.5,"g":"up"},{"fc":2.6,"q":18.8,"g":"up"},{"fc":2.7,"q":16.5,"g":"up"},{"fc":2.9,"q":14.8,"g":"up"},{"fc":11.5,"q":18.6,"g":"up"},{"fc":7.3,"q":10.3,"g":"up"},{"fc":7.5,"q":8.6,"g":"up"},{"fc":7.6,"q":5.7,"g":"up"},{"fc":8.8,"q":8.5,"g":"up"},{"fc":8.5,"q":7.7,"g":"up"},{"fc":8.2,"q":4.5,"g":"up"},{"fc":8.7,"q":4.5,"g":"up"},
{"fc":9,"q":2.2,"g":"up"},{"fc":9.2,"q":2.7,"g":"up"},{"fc":9.4,"q":3.1,"g":"up"},{"fc":9.5,"q":2.5,"g":"up"},{"fc":9.7,"q":3.4,"g":"up"},{"fc":9.8,"q":4,"g":"up"},{"fc":9.9,"q":3.1,"g":"up"},{"fc":10,"q":4.5,"g":"up"},{"fc":10.1,"q":3.7,"g":"up"},{"fc":10.2,"q":5,"g":"up"},{"fc":10.3,"q":4.2,"g":"up"},{"fc":10.3,"q":6,"g":"up"},{"fc":10.4,"q":9.5,"g":"up"},{"fc":10.5,"q":5,"g":"up"},{"fc":10.5,"q":8.7,"g":"up"},{"fc":10.6,"q":6,"g":"up"},{"fc":10.6,"q":4.2,"g":"up"},{"fc":10.7,"q":7,"g":"up"},{"fc":10.8,"q":5.4,"g":"up"},{"fc":10.8,"q":6.5,"g":"up"},{"fc":10.9,"q":7.5,"g":"up"},{"fc":11,"q":5.8,"g":"up"},{"fc":11,"q":4.7,"g":"up"},{"fc":11.1,"q":7,"g":"up"},{"fc":11.1,"q":8.2,"g":"up"},{"fc":11.2,"q":6.2,"g":"up"},{"fc":11.3,"q":7.6,"g":"up"},{"fc":11.3,"q":5,"g":"up"},{"fc":11.4,"q":6.6,"g":"up"},{"fc":11.4,"q":8.8,"g":"up"},{"fc":11.5,"q":7.8,"g":"up"},{"fc":11.6,"q":5.8,"g":"up"},{"fc":11.6,"q":9.5,"g":"up"},{"fc":11.7,"q":8.3,"g":"up"},{"fc":11.8,"q":7,"g":"up"},{"fc":11.8,"q":4.6,"g":"up"},{"fc":11.9,"q":9,"g":"up"},{"fc":12,"q":7.8,"g":"up"},{"fc":12,"q":10,"g":"up"},{"fc":12.1,"q":6.5,"g":"up"},{"fc":12.2,"q":9.2,"g":"up"},{"fc":12.3,"q":8,"g":"up"},{"fc":12.3,"q":5,"g":"up"},{"fc":12.4,"q":10.5,"g":"up"},{"fc":12.5,"q":9.5,"g":"up"},{"fc":12.6,"q":11.8,"g":"up"},{"fc":12.8,"q":10.8,"g":"up"},{"fc":12.9,"q":12,"g":"up"},{"fc":13.1,"q":12.2,"g":"up"},{"fc":13,"q":9.8,"g":"up"},{"fc":13.1,"q":14.2,"g":"up"},{"fc":13.3,"q":14.6,"g":"up"},{"fc":13.4,"q":16.5,"g":"up"},{"fc":13.5,"q":15,"g":"up"},{"fc":13.6,"q":16,"g":"up"},{"fc":13.7,"q":15.5,"g":"up"},{"fc":13.4,"q":13,"g":"up"},
{"fc":2.9,"q":8.8,"g":"up"},{"fc":2.7,"q":7.2,"g":"up"},{"fc":3,"q":6.8,"g":"up"},{"fc":3.2,"q":7.5,"g":"up"},{"fc":2.4,"q":6.5,"g":"up"},{"fc":3.4,"q":5.8,"g":"up"},{"fc":3.6,"q":6.8,"g":"up"},{"fc":3.8,"q":5.3,"g":"up"},{"fc":4.1,"q":4.6,"g":"up"},{"fc":4.4,"q":4.2,"g":"up"},{"fc":4.8,"q":5.2,"g":"up"},{"fc":5,"q":6,"g":"up"},{"fc":5.2,"q":4.8,"g":"up"},{"fc":5.4,"q":5.9,"g":"up"},{"fc":5.4,"q":6.8,"g":"up"},{"fc":5.7,"q":6.2,"g":"up"},{"fc":5.9,"q":4.4,"g":"up"},{"fc":6.1,"q":4,"g":"up"},{"fc":5.5,"q":3.6,"g":"up"},{"fc":5.1,"q":3.4,"g":"up"},{"fc":4.8,"q":2.6,"g":"up"},
{"fc":2.1,"q":1.6,"g":"up"},{"fc":2.1,"q":2.7,"g":"up"},{"fc":2.1,"q":3.8,"g":"up"},{"fc":2.1,"q":5,"g":"up"},{"fc":2.4,"q":1.6,"g":"up"},{"fc":2.4,"q":2.7,"g":"up"},{"fc":2.4,"q":3.8,"g":"up"},{"fc":2.4,"q":5,"g":"up"},{"fc":2.7,"q":1.6,"g":"up"},{"fc":2.7,"q":2.7,"g":"up"},{"fc":2.7,"q":3.8,"g":"up"},{"fc":2.7,"q":5,"g":"up"},{"fc":3,"q":1.6,"g":"up"},{"fc":3,"q":2.7,"g":"up"},{"fc":3,"q":3.8,"g":"up"},{"fc":3,"q":5,"g":"up"},{"fc":3.3,"q":1.6,"g":"up"},{"fc":3.3,"q":2.7,"g":"up"},{"fc":3.3,"q":3.8,"g":"up"},{"fc":3.3,"q":4.8,"g":"up"},{"fc":3.6,"q":1.6,"g":"up"},{"fc":3.6,"q":2.7,"g":"up"},{"fc":3.6,"q":3.8,"g":"up"},{"fc":3.9,"q":1.6,"g":"up"},{"fc":3.9,"q":2.7,"g":"up"},{"fc":3.9,"q":3.8,"g":"up"},{"fc":4.2,"q":1.6,"g":"up"},{"fc":4.2,"q":2.7,"g":"up"},{"fc":4.2,"q":3.4,"g":"up"},{"fc":4.5,"q":1.6,"g":"up"},{"fc":4.5,"q":2.7,"g":"up"},{"fc":4.5,"q":3.5,"g":"up"},{"fc":4.9,"q":1.6,"g":"up"}
],
"bars":[{"regulation":"Up-regulated","degs":465},{"regulation":"Down-regulated","degs":656}]},
"layer":[
{"layer":[
{"data":{"name":"heat"},"mark":{"type":"rect"},"encoding":{
"x":{"field":"s","type":"nominal","title":null,"scale":{"type":"band","domain":["Control_1","Control_2","Control_3","Treatment_1","Treatment_2","Treatment_3"],"range":[225,498],"padding":0},"axis":{"orient":"bottom","offset":-455,"domain":false,"ticks":false,"labelAngle":90,"labelFontSize":9,"labelColor":"#333","labelPadding":4,"labelFont":"Liberation Sans","grid":false}},
"y":{"field":"g","type":"ordinal","title":null,"scale":{"type":"band","domain":[1,2,3,4,5,6,7,8,9,10,11,12,13,14,15,16,17,18,19,20,21,22,23,24,25,26,27,28,29,30,31,32,33,34,35,36,37,38,39,40,41,42,43,44,45,46,47,48,49,50,51,52,53,54,55,56,57,58,59,60,61,62,63,64,65],"range":[40,300],"padding":0},"axis":null},
"color":{"field":"v","type":"quantitative","title":null,"scale":{"domain":[-2,0,2],"range":["#3399ff","#ffffff","#ff1a33"],"interpolate":"rgb"},"legend":{"type":"gradient","orient":"none","legendX":506,"legendY":40,"direction":"vertical","gradientLength":128,"gradientThickness":9,"tickCount":5,"labelFontSize":9.5,"labelColor":"#333","labelOffset":4,"title":null,"gradientStrokeWidth":0}}}},
{"data":{"values":[{"boundary":"Treatment_1"}]},"mark":{"type":"rule","color":"white","strokeWidth":3,"clip":true},"encoding":{"x":{"datum":"Treatment_1","bandPosition":0,"scale":{"type":"band"},"axis":null}}},
{"data":{"values":[{"boundary":39}]},"mark":{"type":"rule","color":"white","strokeWidth":3,"clip":true},"encoding":{"y":{"datum":39,"type":"ordinal","bandPosition":0,"scale":{"type":"band"},"axis":null}}}
],"resolve":{"axis":{"x":"independent","y":"independent"}}},
{"layer":[
{"data":{"values":[{"annotation":"condition","group":"Control"},{"annotation":"condition","group":"Treatment"}]},"mark":{"type":"rect"},"encoding":{
"x":{"field":"group","type":"nominal","title":null,"scale":{"type":"band","domain":["Control","Treatment"],"range":[225,498],"paddingInner":0.022,"paddingOuter":0},"axis":null},
"y":{"field":"annotation","type":"nominal","title":null,"scale":{"type":"band","domain":["condition","sample_type"],"range":[18,38],"paddingInner":0.2,"paddingOuter":0},"axis":{"orient":"right","offset":-246,"domain":false,"ticks":false,"labelFontWeight":"bold","labelFontSize":9,"labelColor":"#222","labelPadding":4,"grid":false}},
"color":{"field":"group","type":"nominal","title":"condition","scale":{"domain":["Control","Treatment"],"range":["#a6cee3","#b2df8a"]},"legend":{"orient":"none","legendX":532,"legendY":39,"symbolType":"square","symbolSize":169,"symbolStrokeWidth":0,"rowPadding":0,"titleFontSize":9.5,"titleColor":"#222","titlePadding":1,"labelFontSize":9.5,"labelColor":"#444","labelOffset":3}}}},
{"data":{"values":[{"annotation":"sample_type","group":"Control"},{"annotation":"sample_type","group":"Treatment"}]},"mark":{"type":"rect"},"encoding":{
"x":{"field":"group","type":"nominal","title":null,"scale":{"type":"band","domain":["Control","Treatment"],"range":[225,498],"paddingInner":0.022,"paddingOuter":0},"axis":null},
"y":{"field":"annotation","type":"nominal","title":null,"axis":null},
"color":{"field":"group","type":"nominal","title":"sample_type","scale":{"domain":["Control","Treatment"],"range":["#66c2a5","#fc8d62"]},"legend":{"orient":"none","legendX":532,"legendY":83,"symbolType":"square","symbolSize":169,"symbolStrokeWidth":0,"rowPadding":0,"titleFontSize":9.5,"titleColor":"#222","titlePadding":2,"labelFontSize":9.5,"labelColor":"#444","labelOffset":3}}}},
{"data":{"values":[{"label":"1,118 Union DEGs / 2 clusters"}]},"mark":{"type":"text","font":"Liberation Sans","fontWeight":"bold","fontSize":11.6,"color":"#222","dy":-14},"encoding":{"text":{"field":"label"},"x":{"datum":"Treatment","bandPosition":0,"scale":{"type":"band"},"axis":null},"y":{"datum":"condition","scale":{"type":"band"},"axis":null}}},
{"data":{"values":[{"label":"(a)"}]},"mark":{"type":"text","font":"Liberation Serif","fontWeight":"bold","fontSize":14,"color":"#000","dx":-105,"dy":-11},"encoding":{"text":{"field":"label"},"x":{"datum":"Control","scale":{"type":"band"},"axis":null},"y":{"datum":"condition","scale":{"type":"band"},"axis":null}}}
],"resolve":{"scale":{"color":"independent"},"axis":{"x":"independent","y":"independent"}}},
{"data":{"values":[{"track":"cluster","cluster":"Cluster1","first":0,"last":37.9},{"track":"cluster","cluster":"Cluster2","first":38.6,"last":65}]},"mark":{"type":"rect"},"encoding":{
"x":{"field":"track","type":"nominal","title":null,"scale":{"type":"band","domain":["cluster"],"range":[213,222],"padding":0},"axis":{"orient":"bottom","offset":-455,"domain":false,"ticks":false,"labelAngle":90,"labelFontSize":9.5,"labelFontWeight":"bold","labelColor":"#222","labelPadding":4,"grid":false}},
"y":{"field":"first","type":"quantitative","title":null,"scale":{"domain":[0,65],"range":[40,300],"nice":false,"zero":false},"axis":null},
"y2":{"field":"last"},
"color":{"field":"cluster","type":"nominal","title":"cluster","scale":{"domain":["Cluster1","Cluster2"],"range":["#8dd3c7","#ffffb3"]},"legend":{"orient":"none","legendX":532,"legendY":128,"symbolType":"square","symbolSize":169,"symbolStrokeWidth":0,"rowPadding":0,"titleFontSize":9.5,"titleColor":"#222","titlePadding":2,"labelFontSize":9.5,"labelColor":"#444","labelOffset":3}}}},
{"layer":[
{"data":{"name":"volcano"},"mark":{"type":"circle","size":18,"opacity":1},"encoding":{
"x":{"field":"fc","type":"quantitative","title":"Log₂ fold change","scale":{"domain":[-15.07,16.04],"range":[53,309],"nice":false,"zero":false},"axis":{"orient":"bottom","offset":-51,"values":[-10,-5,0,5,10,15],"grid":false,"domain":false,"tickColor":"#555","tickSize":6,"labelFontSize":14,"labelColor":"#333","labelPadding":7,"labelFlush":false,"labelOverlap":false,"titleFontSize":14,"titleFontWeight":"normal","titleColor":"#333","titlePadding":6}},
"y":{"field":"q","type":"quantitative","title":"−log₁₀ q value","scale":{"domain":[-2.95,81.6],"range":[704,446],"nice":false,"zero":false},"axis":{"orient":"left","offset":-53,"values":[0,20,40,60,80],"grid":false,"domain":false,"tickColor":"#555","tickSize":6,"labelAngle":270,"labelFontSize":14,"labelColor":"#333","labelPadding":7,"labelFlush":false,"labelOverlap":false,"titleFontSize":15.5,"titleFontWeight":"normal","titleColor":"#333","titlePadding":8}},
"color":{"field":"g","type":"nominal","scale":{"domain":["ns","down","up"],"range":["#b8b8b8","#1212e0","#f01414"]},"legend":null}}},
{"data":{"values":[{"cutoff":-2},{"cutoff":2}]},"mark":{"type":"rule","color":"#222","strokeWidth":1.6,"strokeDash":[6,3,2,3]},"encoding":{"x":{"field":"cutoff","type":"quantitative","axis":null},"y":{"datum":-2.95,"axis":null},"y2":{"datum":81.6}}},
{"data":{"values":[{"cutoff":0}]},"mark":{"type":"rule","color":"#777","strokeWidth":0.8,"strokeDash":[1,2]},"encoding":{"x":{"field":"cutoff","type":"quantitative","axis":null},"y":{"datum":-2.95,"axis":null},"y2":{"datum":81.6}}},
{"data":{"values":[{"cutoff":1.3}]},"mark":{"type":"rule","color":"#222","strokeWidth":1.6,"strokeDash":[6,3,2,3]},"encoding":{"y":{"field":"cutoff","type":"quantitative","axis":null},"x":{"datum":-15.07,"axis":null},"x2":{"datum":16.04}}},
{"data":{"values":[{"frame":"plot"}]},"mark":{"type":"rect","fillOpacity":0,"stroke":"#666","strokeWidth":1.2},"encoding":{"x":{"datum":-15.07,"axis":null},"x2":{"datum":16.04},"y":{"datum":-2.95,"axis":null},"y2":{"datum":81.6}}},
{"data":{"values":[{"label":"Volcano plot"}]},"mark":{"type":"text","font":"Liberation Sans","fontWeight":"bold","fontSize":14,"color":"#222"},"encoding":{"text":{"field":"label"},"x":{"datum":0.5,"axis":null},"y":{"datum":95.4,"axis":null}}},
{"data":{"values":[{"label":"(b)"}]},"mark":{"type":"text","font":"Liberation Serif","fontWeight":"bold","fontSize":14,"color":"#000"},"encoding":{"text":{"field":"label"},"x":{"datum":-18.7,"axis":null},"y":{"datum":94,"axis":null}}}
],"resolve":{"axis":{"x":"independent","y":"independent"}}},
{"layer":[
{"data":{"name":"bars"},"mark":{"type":"bar"},"encoding":{
"x":{"field":"regulation","type":"nominal","sort":null,"title":"DEGs among control & treated group","scale":{"type":"band","domain":["Up-regulated","Down-regulated"],"range":[515,627],"paddingInner":0.222,"paddingOuter":0},"axis":{"orient":"bottom","offset":-60,"labels":false,"ticks":false,"domain":false,"grid":false,"titleFont":"Liberation Serif","titleFontWeight":"bold","titleFontSize":14,"titleColor":"#222","titleX":581,"titleY":27}},
"y":{"field":"degs","type":"quantitative","title":"Number of DEGs","scale":{"domain":[0,700],"range":[695,406],"nice":false,"zero":true},"axis":{"orient":"left","offset":-456,"values":[0,100,200,300,400,500,600,700],"domain":false,"ticks":false,"grid":false,"labelFont":"Liberation Serif","labelFontWeight":"bold","labelFontSize":13,"labelColor":"#222","labelPadding":5,"titleFont":"Liberation Serif","titleFontWeight":"bold","titleFontSize":20,"titleColor":"#222","titleX":-37,"titleY":561}},
"color":{"field":"regulation","type":"nominal","sort":null,"scale":{"domain":["Up-regulated","Down-regulated"],"range":["#4f9a3c","#3f6fbf"]},"legend":{"orient":"none","legendX":648,"legendY":504,"title":null,"symbolType":"square","symbolSize":25,"symbolStrokeWidth":0,"rowPadding":18,"labelFont":"Liberation Serif","labelFontWeight":"bold","labelFontSize":12.3,"labelColor":"#222","labelOffset":1}}}},
{"data":{"name":"bars"},"transform":[{"filter":"datum.regulation === 'Up-regulated'"}],"mark":{"type":"bar","fill":{"gradient":"linear","x1":0,"y1":0,"x2":1,"y2":0,"stops":[{"offset":0,"color":"#6a0000"},{"offset":0.08,"color":"#d80000"},{"offset":0.92,"color":"#d80000"},{"offset":1,"color":"#6a0000"}]}},"encoding":{"x":{"field":"regulation","type":"nominal","axis":null},"y":{"field":"degs","type":"quantitative","axis":null}}},
{"data":{"name":"bars"},"transform":[{"filter":"datum.regulation === 'Up-regulated'"}],"mark":{"type":"bar","fill":{"gradient":"linear","x1":0,"y1":0,"x2":0,"y2":1,"stops":[{"offset":0,"color":"rgba(255,255,255,0)"},{"offset":0.025,"color":"rgba(255,255,255,0)"},{"offset":0.028,"color":"rgba(255,255,255,0.9)"},{"offset":0.045,"color":"rgba(255,255,255,0.55)"},{"offset":0.06,"color":"rgba(255,255,255,0)"},{"offset":0.95,"color":"rgba(255,255,255,0)"},{"offset":0.953,"color":"rgba(200,100,100,0.5)"},{"offset":1,"color":"rgba(100,0,0,0.7)"}]}},"encoding":{"x":{"field":"regulation","type":"nominal","axis":null},"y":{"field":"degs","type":"quantitative","axis":null}}},
{"data":{"name":"bars"},"transform":[{"filter":"datum.regulation === 'Down-regulated'"}],"mark":{"type":"bar","fill":{"gradient":"linear","x1":0,"y1":0,"x2":1,"y2":0,"stops":[{"offset":0,"color":"#27457f"},{"offset":0.08,"color":"#4d7dd0"},{"offset":0.92,"color":"#4d7dd0"},{"offset":1,"color":"#27457f"}]}},"encoding":{"x":{"field":"regulation","type":"nominal","axis":null},"y":{"field":"degs","type":"quantitative","axis":null}}},
{"data":{"name":"bars"},"transform":[{"filter":"datum.regulation === 'Down-regulated'"}],"mark":{"type":"bar","fill":{"gradient":"linear","x1":0,"y1":0,"x2":0,"y2":1,"stops":[{"offset":0,"color":"rgba(255,255,255,0)"},{"offset":0.012,"color":"rgba(255,255,255,0)"},{"offset":0.015,"color":"rgba(255,255,255,0.95)"},{"offset":0.03,"color":"rgba(255,255,255,0.8)"},{"offset":0.037,"color":"rgba(255,255,255,0)"},{"offset":0.965,"color":"rgba(255,255,255,0)"},{"offset":0.967,"color":"rgba(150,160,200,0.35)"},{"offset":1,"color":"rgba(40,50,100,0.5)"}]}},"encoding":{"x":{"field":"regulation","type":"nominal","axis":null},"y":{"field":"degs","type":"quantitative","axis":null}}},
{"data":{"values":[{"label":"(c)"}]},"mark":{"type":"text","font":"Liberation Serif","fontWeight":"bold","fontSize":14,"color":"#000","dx":-133},"encoding":{"text":{"field":"label"},"x":{"datum":"Up-regulated","scale":{"type":"band"},"axis":null},"y":{"datum":695,"axis":null}}}
],"resolve":{"axis":{"x":"independent","y":"independent"}}}
]}
